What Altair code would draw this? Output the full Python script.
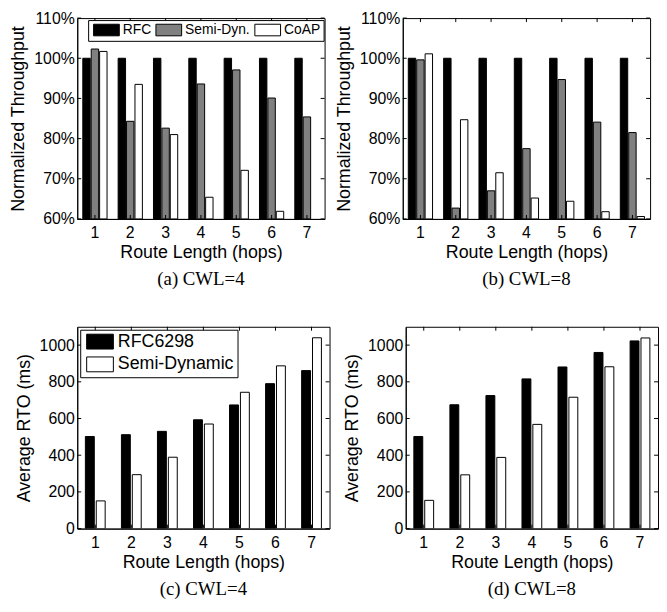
import altair as alt
import pandas as pd

# ---------------- data ----------------
hops = [1, 2, 3, 4, 5, 6, 7]

tp_series = ["RFC", "Semi-Dyn.", "CoAP"]
tp4_rfc = [100, 100, 100, 100, 100, 100, 100]
tp4_semi = [102.3, 84.3, 82.6, 93.6, 97.1, 90.1, 85.4]
tp4_coap = [101.7, 93.5, 81.0, 65.4, 72.1, 61.9, None]

tp8_rfc = [100, 100, 100, 100, 100, 100, 100]
tp8_semi = [99.6, 62.7, 67.0, 77.5, 94.7, 84.1, 81.5]
tp8_coap = [101.1, 84.7, 71.5, 65.2, 64.4, 61.8, 60.6]

rto_series = ["RFC6298", "Semi-Dynamic"]
rto4_rfc = [502, 512, 530, 593, 674, 790, 861]
rto4_semi = [151, 294, 389, 570, 743, 887, 1040]

rto8_rfc = [502, 675, 725, 816, 881, 960, 1023]
rto8_semi = [154, 293, 388, 568, 716, 882, 1039]

tp_ticks = [60, 70, 80, 90, 100, 110]
rto_ticks = [0, 200, 400, 600, 800, 1000]

SANS = "Liberation Sans"
SERIF = "Liberation Serif"
XTITLE = "Route Length (hops)"


def series_df(name, vals):
    return pd.DataFrame(
        [{"hop": h, "series": name, "value": v} for h, v in zip(hops, vals) if v is not None]
    )


def inner_ticks(w, h, yticks, ytitle):
    tdf = pd.DataFrame({"value": yticks})
    hdf = pd.DataFrame({"hop": hops})
    rule = dict(color="black", strokeWidth=1)
    yl = alt.Chart(tdf).mark_rule(**rule).encode(
        y=alt.Y("value:Q", title=ytitle), x=alt.value(0), x2=alt.value(4))
    yr = alt.Chart(tdf).mark_rule(**rule).encode(
        y=alt.Y("value:Q", title=ytitle), x=alt.value(w - 4), x2=alt.value(w))
    xb = alt.Chart(hdf).mark_rule(**rule).encode(
        x=alt.X("hop:O", title=XTITLE), y=alt.value(h - 4), y2=alt.value(h))
    xt = alt.Chart(hdf).mark_rule(**rule).encode(
        x=alt.X("hop:O", title=XTITLE), y=alt.value(0), y2=alt.value(4))
    return [yl, yr, xb, xt]


def panel(columns, series, colors, offsets, bar_w, ydom, yticks, ytitle, caption,
          w, h, legend, label_expr):
    color_scale = alt.Scale(domain=series, range=colors)
    layers = []
    for name, vals, dx in zip(series, columns, offsets):
        layers.append(
            alt.Chart(series_df(name, vals)).mark_bar(
                stroke="black", strokeWidth=1, clip=True, width=bar_w, xOffset=dx
            ).encode(
                x=alt.X("hop:O", title=XTITLE,
                        scale=alt.Scale(paddingInner=0, paddingOuter=0),
                        axis=alt.Axis(labelAngle=0, labelPadding=6, titlePadding=3)),
                y=alt.Y("value:Q", title=ytitle,
                        scale=alt.Scale(domain=ydom, zero=False, nice=False),
                        axis=alt.Axis(values=yticks, labelExpr=label_expr,
                                      labelOverlap=False, labelPadding=3,
                                      titlePadding=6)),
                y2=alt.datum(ydom[0]),
                color=alt.Color("series:N", scale=color_scale, legend=legend),
            )
        )
    layers += inner_ticks(w, h, yticks, ytitle)
    return alt.layer(*layers).properties(
        width=w, height=h,
        title=alt.TitleParams(caption, orient="bottom", anchor="middle", font=SERIF,
                              fontSize=19, fontWeight="normal", color="black", offset=9),
    )


tp_colors = ["#000000", "#808080", "#ffffff"]
rto_colors = ["#000000", "#ffffff"]

legend_a = alt.Legend(
    title=None, orient="none", legendX=11, legendY=2, direction="horizontal",
    symbolType="M-0.692,-0.9H3.308V0.9H-0.692Z", symbolSize=169,
    symbolStrokeColor="black", symbolStrokeWidth=1, symbolOpacity=1,
    labelFont=SANS, labelFontSize=14, labelColor="black", labelOffset=18,
    columnPadding=2, padding=3,
    strokeColor="black", fillColor="white", cornerRadius=0,
)
legend_c = alt.Legend(
    title=None, orient="none", legendX=3, legendY=3, direction="vertical",
    symbolType="M-0.733,-1H2.867V1H-0.733Z", symbolSize=225,
    symbolStrokeColor="black", symbolStrokeWidth=1, symbolOpacity=1,
    labelFont=SANS, labelFontSize=18, labelColor="black", labelOffset=17,
    rowPadding=3, padding=3,
    strokeColor="black", fillColor="white", cornerRadius=0,
)

pct = "datum.value + '%'"
num = "datum.value"

TPW, TPH = 250, 203
RW, RH = 255, 204

a = panel([tp4_rfc, tp4_semi, tp4_coap], tp_series, tp_colors, [-8.5, 0, 8.5], 7.5,
          [60, 110], tp_ticks, "Normalized Throughput", "(a) CWL=4", TPW, TPH, legend_a, pct)
b = panel([tp8_rfc, tp8_semi, tp8_coap], tp_series, tp_colors, [-8.5, 0, 8.5], 7.5,
          [60, 110], tp_ticks, "Normalized Throughput", "(b) CWL=8", TPW, TPH, None, pct)
c = panel([rto4_rfc, rto4_semi], rto_series, rto_colors, [-5.5, 5.5], 9,
          [0, 1100], rto_ticks, "Average RTO (ms)", "(c) CWL=4", RW, RH, legend_c, num)
d = panel([rto8_rfc, rto8_semi], rto_series, rto_colors, [-5.5, 5.5], 9,
          [0, 1100], rto_ticks, "Average RTO (ms)", "(d) CWL=8", RW, RH, None, num)

top = alt.hconcat(a, b, spacing=9).resolve_scale(color="independent")
bottom = alt.hconcat(c, d, spacing=12).resolve_scale(color="independent")

chart = alt.vconcat(top, bottom, spacing=36).resolve_scale(color="independent").properties(
    padding={"left": 1, "top": -2, "right": 0, "bottom": 0},
    background="white",
).configure_view(
    stroke="black", strokeWidth=1
).configure_axis(
    grid=False, ticks=False, domainColor="black", domainWidth=1,
    labelColor="black", titleColor="black", labelFont=SANS, titleFont=SANS,
    labelFontSize=16, titleFontSize=18, titleFontWeight="normal",
)

chart.save("out.html", embed_options={"renderer": "svg", "actions": False})
